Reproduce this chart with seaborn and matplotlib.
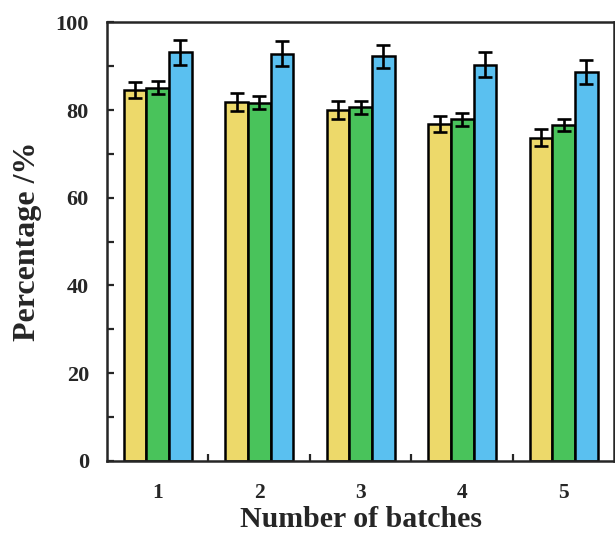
import numpy as np
import pandas as pd
import seaborn as sns
import matplotlib.pyplot as plt
from matplotlib.ticker import MultipleLocator

batches = ["1", "2", "3", "4", "5"]
series = ["A", "B", "C"]
yellow_vals = [84.5, 81.8, 80.0, 76.9, 73.7]
green_vals = [85.1, 81.7, 80.6, 77.9, 76.6]
blue_vals = [93.2, 92.9, 92.3, 90.4, 88.7]
yellow_err = [1.8, 2.0, 2.0, 1.8, 1.9]
green_err = [1.5, 1.5, 1.5, 1.5, 1.4]
blue_err = [2.8, 2.9, 2.6, 2.8, 2.7]
colors = ["#EDD96A", "#49C35B", "#5AC0F0"]

df = pd.DataFrame({
    "batch": batches * 3,
    "series": [s for s in series for _ in batches],
    "value": yellow_vals + green_vals + blue_vals,
    "err": yellow_err + green_err + blue_err,
})

sns.set_style("ticks")
plt.rcParams["font.family"] = ["Liberation Serif", "DejaVu Serif"]
plt.rcParams["font.weight"] = "bold"

fig = plt.figure(figsize=(6.15, 5.34), dpi=100)
ax = fig.add_axes([0.174, 0.137, 0.825, 0.821])

sns.barplot(data=df, x="batch", y="value", hue="series", palette=colors,
            width=0.67, gap=0, errorbar=None, edgecolor="black",
            linewidth=1.8, saturation=1, legend=False, ax=ax)

# error bars at bar centres (patches come series by series)
bars = [p for p in ax.patches if p.get_height() > 0]
xs = [p.get_x() + p.get_width() / 2 for p in bars]
hs = [p.get_height() for p in bars]
ax.errorbar(xs, hs, yerr=df["err"].values, fmt="none", ecolor="black",
            elinewidth=1.9, capsize=5.2, capthick=1.9, zorder=5)

ax.set_ylim(0, 100)
ax.set_xlim(-0.5, 4.5)
ax.yaxis.set_major_locator(MultipleLocator(20))
ax.yaxis.set_minor_locator(MultipleLocator(10))
ax.set_xticks(np.arange(0.5, 4.5, 1.0), minor=True)
ax.tick_params(axis="x", which="major", length=0, pad=16, labelsize=15.5)
ax.tick_params(axis="x", which="minor", direction="in", length=5, width=1.6)
ax.tick_params(axis="y", which="both", direction="in", length=5, width=1.6,
               pad=13, labelsize=16)
for s in ax.spines.values():
    s.set_linewidth(1.8)

ax.set_xlabel("Number of batches", fontsize=21.5, fontweight="bold", labelpad=2)
ax.set_ylabel("Percentage /%", fontsize=23, fontweight="bold", labelpad=10)
for lab in ax.get_xticklabels() + ax.get_yticklabels():
    lab.set_fontweight("bold")

fig.savefig("out.png", dpi=100)
